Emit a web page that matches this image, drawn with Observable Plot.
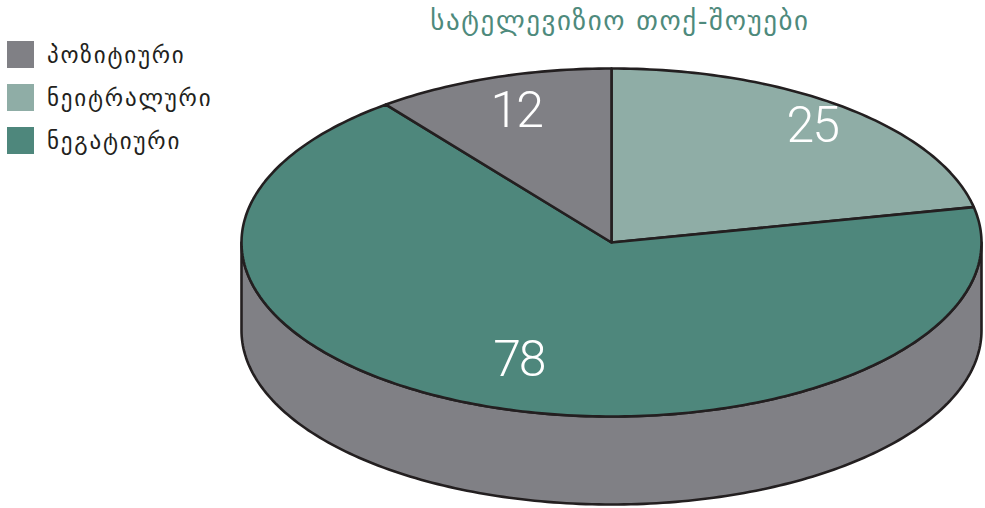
<!DOCTYPE html>
<html><head><meta charset="utf-8">
<script src="https://cdn.jsdelivr.net/npm/d3@7"></script>
<script src="https://cdn.jsdelivr.net/npm/@observablehq/plot@0.6"></script>
<style>
body{margin:0;background:#fff;}
#wrap{position:relative;width:985px;height:508px;overflow:hidden;}
#title{position:absolute;left:400px;top:5px;width:440px;text-align:center;font-family:"DejaVu Sans",sans-serif;font-size:27px;letter-spacing:1.6px;color:#4e8a7c;white-space:nowrap;}
#legend{position:absolute;left:7px;top:41px;font-family:"DejaVu Sans",sans-serif;font-size:23px;letter-spacing:1.8px;color:#231f20;}
.item{display:flex;align-items:center;height:27px;margin-bottom:16px;white-space:nowrap;}
.sw{width:27px;height:27px;margin-right:13px;flex:none;}
</style></head><body>
<div id="wrap"><div id="title"></div><div id="legend"></div></div>
<script>
const categories = ["პოზიტიური", "ნეიტრალური", "ნეგატიური"];
const values = [12, 25, 78];
const colors = ["#808085", "#8fada6", "#4e877c"];
const chartTitle = "სატელევიზიო თოქ-შოუები";
// clockwise order of slices from 12 o'clock
const sliceOrder = ["ნეიტრალური", "ნეგატიური", "პოზიტიური"];
const sideColor = "#808085";

const tilt = 174 / 370, depth = 88 / 370;
const deg = Math.PI / 180;
const rows = sliceOrder.map(c => ({cat: c, value: values[categories.indexOf(c)]}));
const arcs = d3.pie().sort(null).value(d => d.value)(rows);

const P = (a, r = 1, off = 0) => ({x: r * Math.sin(a), y: r * Math.cos(a) * tilt - off});

// slice polygons
const slicePts = [];
for (const a of arcs) {
  slicePts.push({key: a.data.cat, cat: a.data.cat, ...P(0, 0)});
  const n = Math.max(2, Math.ceil((a.endAngle - a.startAngle) / deg));
  for (let i = 0; i <= n; i++) {
    const t = a.startAngle + (a.endAngle - a.startAngle) * i / n;
    slicePts.push({key: a.data.cat, cat: a.data.cat, ...P(t)});
  }
}
// visible side (front half)
const sidePts = [];
for (let i = 0; i <= 180; i++) sidePts.push(P(90 * deg + i * deg));
for (let i = 180; i >= 0; i--) sidePts.push(P(90 * deg + i * deg, 1, depth));

const labelR = {"ნეიტრალური": 0.86, "ნეგატიური": 0.72, "პოზიტიური": 0.8};
const labels = arcs.map(a => ({text: String(a.data.value), ...P((a.startAngle + a.endAngle) / 2, labelR[a.data.cat])}));

const chart = Plot.plot({
  width: 985, height: 508, margin: 0,
  x: {domain: [-611 / 370, 374 / 370], range: [0, 985], axis: null},
  y: {domain: [(242 - 508) / 370, 242 / 370], range: [508, 0], axis: null},
  color: {domain: categories, range: colors},
  marks: [
    Plot.line(sidePts, {x: "x", y: "y", fill: sideColor, stroke: "#231f20", strokeWidth: 2.6, curve: "linear-closed", strokeLinejoin: "round"}),
    Plot.line(slicePts, {x: "x", y: "y", z: "key", fill: "cat", stroke: "#231f20", strokeWidth: 2.6, curve: "linear-closed", strokeLinejoin: "round"}),
    Plot.text(labels, {x: "x", y: "y", text: "text", fill: "white", fontSize: 50, fontWeight: 300, fontFamily: "Roboto, sans-serif", textAnchor: "middle"})
  ]
});
chart.style.position = "absolute"; chart.style.left = "0"; chart.style.top = "0";
chart.querySelectorAll("text").forEach(t => t.setAttribute("letter-spacing", "-2"));
const wrap = document.getElementById("wrap");
wrap.insertBefore(chart, wrap.firstChild);
document.getElementById("title").textContent = chartTitle;
const leg = document.getElementById("legend");
categories.forEach((c, i) => {
  const it = document.createElement("div"); it.className = "item";
  const sw = document.createElement("div"); sw.className = "sw"; sw.style.background = colors[i];
  const tx = document.createElement("span"); tx.textContent = c;
  it.appendChild(sw); it.appendChild(tx); leg.appendChild(it);
});
</script>
</body></html>
